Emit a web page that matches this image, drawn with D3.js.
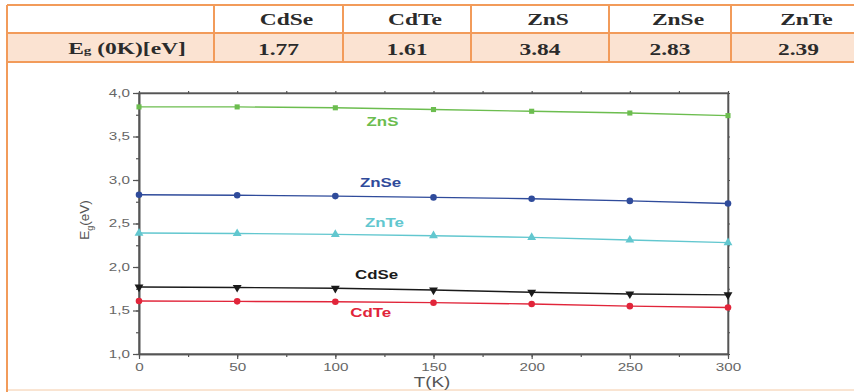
<!DOCTYPE html>
<html>
<head>
<meta charset="utf-8">
<script src="https://cdn.jsdelivr.net/npm/d3@7"></script>
<style>
	body { margin: 0; background: #fff; }
	#chart { width: 854px; height: 392px; overflow: hidden; }
	.cell_text { font-family: "Liberation Serif", serif; font-weight: bold; font-size: 17px; fill: #2b2b2b; }
	.tick text { font-family: "Liberation Sans", Arial, sans-serif; font-size: 10.5px; fill: #666; }
	.tick line, .domain { stroke: #555; }
	.series_label { font-family: "Liberation Sans", Arial, sans-serif; font-weight: bold; font-size: 12.5px; }
	.axis_title { font-family: "Liberation Sans", Arial, sans-serif; font-size: 14px; fill: #555; }
</style>
</head>
<body>
<div id="chart"></div>
<script>
"use strict"

// table values
var materials = ["CdSe", "CdTe", "ZnS", "ZnSe", "ZnTe"];
var gap0K = ["1.77", "1.61", "3.84", "2.83", "2.39"];

// plot values
var temperatures = [0, 50, 100, 150, 200, 250, 300];
var seriesNames = ["ZnS", "ZnSe", "ZnTe", "CdSe", "CdTe"];
var znsGap = [3.84, 3.84, 3.83, 3.81, 3.79, 3.77, 3.74];
var znseGap = [2.83, 2.825, 2.815, 2.80, 2.785, 2.76, 2.73];
var zncteGap = [2.39, 2.385, 2.375, 2.36, 2.34, 2.31, 2.28];
var cdseGap = [1.77, 1.765, 1.755, 1.735, 1.71, 1.69, 1.68];
var cdteGap = [1.61, 1.605, 1.60, 1.59, 1.575, 1.55, 1.535];

var xTicks = [0, 50, 100, 150, 200, 250, 300];
var yTicks = [1.0, 1.5, 2.0, 2.5, 3.0, 3.5, 4.0];

// where each name sits, in data units
var labelT = [124, 123, 125, 121, 118];
var labelE = [3.62, 2.92, 2.46, 1.86, 1.43];

var GapView = function(targetID) {
	let self = {
		targetID: targetID,
		svg: null,
		colEdges: [7, 214, 343, 471, 609, 731, 866],
		rowEdges: [5, 33, 62],
		plot: {left: 139, right: 728, top: 93, bottom: 354},
		xScale: d3.scaleLinear(),
		yScale: d3.scaleLinear(),
		colors: {"ZnS": "#6cbd4f", "ZnSe": "#2f4b9b", "ZnTe": "#62c7cf", "CdSe": "#1a1a1a", "CdTe": "#e1253a"},
		symbols: {"ZnS": d3.symbolSquare, "ZnSe": d3.symbolCircle, "ZnTe": d3.symbolTriangle, "CdSe": d3.symbolTriangle, "CdTe": d3.symbolCircle},
		series: []
	}

	// the picture is wider than it is tall, so the letters come out stretched
	function stretch(sel, sx) {
		sel.each(function() {
			var t = d3.select(this);
			var x = +t.attr("x") || 0, y = +t.attr("y") || 0;
			t.attr("x", 0).attr("y", 0)
				.attr("transform", `translate(${x},${y})scale(${sx},1)`);
		});
	}

	function draw() {
		self.svg = d3.select(self.targetID).append("svg")
			.attr("width", 854)
			.attr("height", 392);

		drawTable();
		drawPlot();
	}

	function drawTable() {
		var c = self.colEdges, r = self.rowEdges;
		var g = self.svg.append("g").attr("class", "table");

		// second row is shaded
		g.append("rect")
			.attr("x", c[0]).attr("y", r[1])
			.attr("width", c[c.length-1]-c[0]).attr("height", r[2]-r[1])
			.style("fill", "#fbe3d2");

		// box under the table that holds the plot
		g.append("rect")
			.attr("x", c[0]).attr("y", r[2])
			.attr("width", 900).attr("height", 390-r[2])
			.style("fill", "none").style("stroke", "#f8dcc4").style("stroke-width", 1.5);
		g.append("line")
			.attr("x1", c[0]).attr("x2", c[0]).attr("y1", r[2]).attr("y2", 392)
			.style("stroke", "#f29b5a").style("stroke-width", 2);

		r.forEach(y => {
			g.append("line").attr("x1", c[0]).attr("x2", 860).attr("y1", y).attr("y2", y)
				.style("stroke", "#f29b5a").style("stroke-width", 2);
		});
		c.forEach(x => {
			g.append("line").attr("x1", x).attr("x2", x).attr("y1", r[0]).attr("y2", r[2])
				.style("stroke", "#f29b5a").style("stroke-width", 2);
		});

		g.selectAll(".head").data(materials)
			.enter().append("text")
				.attr("class", "cell_text head")
				.attr("x", (d, i) => (c[i+1]+c[i+2])/2 + 8)
				.attr("y", (r[0]+r[1])/2 + 6)
				.attr("text-anchor", "middle")
				.text(d => d)
				.call(stretch, 1.38);

		g.selectAll(".val").data(gap0K)
			.enter().append("text")
				.attr("class", "cell_text val")
				.attr("x", (d, i) => (c[i+1]+c[i+2])/2)
				.attr("y", (r[1]+r[2])/2 + 7)
				.attr("text-anchor", "middle")
				.text(d => d)
				.call(stretch, 1.38);

		var rowLabel = g.append("text")
			.attr("class", "cell_text")
			.attr("x", 127)
			.attr("y", (r[1]+r[2])/2 + 6)
			.attr("text-anchor", "middle");
		rowLabel.append("tspan").text("E");
		rowLabel.append("tspan").attr("font-size", "11px").text("g");
		rowLabel.append("tspan").text(" (0K)[eV]");
		rowLabel.call(stretch, 1.38);
	}

	function drawPlot() {
		var p = self.plot;
		self.xScale.domain([0, 300]).range([p.left, p.right]);
		self.yScale.domain([1, 4]).range([p.bottom, p.top]);

		self.series = [znsGap, znseGap, zncteGap, cdseGap, cdteGap].map((vals, i) => ({
			name: seriesNames[i],
			points: vals.map((v, j) => ({t: temperatures[j], e: v}))
		}));

		var g = self.svg.append("g").attr("class", "plot");

		var yFmt = d => d3.format(".1f")(d).replace(".", ",");
		var xMinor = d3.range(0, 301, 25);
		var yMinor = d3.range(1, 4.001, 0.25);

		// frame
		g.append("rect")
			.attr("x", p.left).attr("y", p.top)
			.attr("width", p.right-p.left).attr("height", p.bottom-p.top)
			.style("fill", "none").style("stroke", "#666").style("stroke-width", 1.3);

		// minor ticks on all four sides
		g.append("g").attr("transform", `translate(0,${p.bottom})`)
			.call(d3.axisBottom(self.xScale).tickValues(xMinor).tickSize(3).tickSizeOuter(0).tickFormat(""));
		g.append("g").attr("transform", `translate(${p.left},0)`)
			.call(d3.axisLeft(self.yScale).tickValues(yMinor).tickSize(3).tickSizeOuter(0).tickFormat(""));
		g.append("g").attr("transform", `translate(0,${p.top})`)
			.call(d3.axisTop(self.xScale).tickValues(xMinor).tickSize(2).tickSizeOuter(0).tickFormat(""));
		g.append("g").attr("transform", `translate(${p.right},0)`)
			.call(d3.axisRight(self.yScale).tickValues(yMinor).tickSize(2).tickSizeOuter(0).tickFormat(""));

		var xAxis = g.append("g").attr("class", "x_axis").attr("transform", `translate(0,${p.bottom})`)
			.call(d3.axisBottom(self.xScale).tickValues(xTicks).tickSize(5).tickSizeOuter(0).tickPadding(5));
		var yAxis = g.append("g").attr("class", "y_axis").attr("transform", `translate(${p.left},0)`)
			.call(d3.axisLeft(self.yScale).tickValues(yTicks).tickSize(6).tickSizeOuter(0).tickFormat(yFmt).tickPadding(3));

		xAxis.selectAll("text").call(stretch, 1.45);
		yAxis.selectAll("text").call(stretch, 1.45);

		g.selectAll(".domain").style("stroke-width", 1.6);
		g.selectAll(".tick line").style("stroke-width", 1.2);

		var line = d3.line().x(d => self.xScale(d.t)).y(d => self.yScale(d.e));

		var sg = g.selectAll(".series").data(self.series)
			.enter().append("g").attr("class", "series");

		sg.append("path")
			.attr("d", d => line(d.points))
			.style("fill", "none")
			.style("stroke", d => self.colors[d.name])
			.style("stroke-width", 1.4);

		sg.each(function(s) {
			d3.select(this).selectAll("path.marker").data(s.points)
				.enter().append("path")
					.attr("class", "marker")
					.attr("d", d3.symbol().type(self.symbols[s.name]).size(s.name == "ZnS" ? 26 : 34))
					.attr("transform", d => `translate(${self.xScale(d.t)},${self.yScale(d.e)})` + (s.name == "CdSe" ? "rotate(180)" : ""))
					.style("fill", self.colors[s.name]);
		});

		g.selectAll(".series_label").data(self.series)
			.enter().append("text")
				.attr("class", "series_label")
				.attr("x", (d, i) => self.xScale(labelT[i]))
				.attr("y", (d, i) => self.yScale(labelE[i]))
				.attr("text-anchor", "middle")
				.style("fill", d => self.colors[d.name])
				.text(d => d.name)
				.call(stretch, 1.35);

		g.append("text")
			.attr("class", "axis_title")
			.attr("x", 432)
			.attr("y", 387)
			.attr("text-anchor", "middle")
			.text("T(K)")
			.call(stretch, 1.35);

		var yTitle = g.append("text")
			.attr("class", "axis_title")
			.attr("transform", `translate(89,220)rotate(-90)`)
			.attr("text-anchor", "middle")
			.style("font-size", "13.5px");
		yTitle.append("tspan").text("E");
		yTitle.append("tspan").attr("font-size", "9px").attr("dy", 4).text("g");
		yTitle.append("tspan").attr("dy", -4).text("(eV)");
	}

	return {
		draw
	};
}

GapView("#chart").draw();
</script>
</body>
</html>
